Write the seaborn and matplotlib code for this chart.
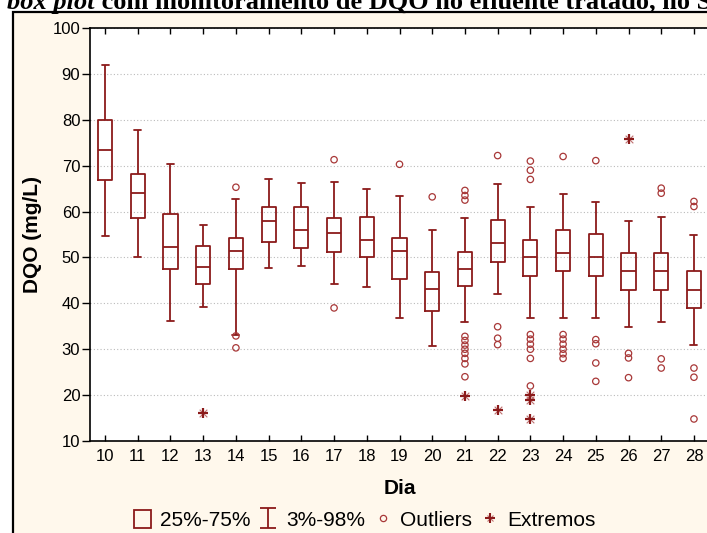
import numpy as np
import pandas as pd
import matplotlib
matplotlib.use("Agg")
import matplotlib.pyplot as plt
import seaborn as sns
from matplotlib.patches import Patch, Rectangle
from matplotlib.lines import Line2D
from matplotlib.path import Path
from matplotlib.legend_handler import HandlerTuple

# ---------------- data ----------------
days = list(range(10, 29))
whisker_low = [54.7, 50.2, 36.2, 39.2, 33.2, 47.7, 48.2, 44.2, 43.6, 36.7,
               30.8, 35.9, 42.1, 36.9, 36.9, 36.9, 34.9, 35.9, 30.9]
q1 = [66.8, 58.7, 47.5, 44.2, 47.4, 53.4, 52.0, 51.2, 50.2, 45.4,
      38.3, 43.8, 49.1, 45.9, 47.0, 45.9, 42.9, 42.9, 39.0]
median = [73.4, 64.1, 52.3, 48.0, 51.5, 58.0, 56.0, 55.3, 53.9, 51.4,
          43.1, 47.5, 53.1, 50.0, 51.0, 50.0, 47.0, 47.0, 43.0]
q3 = [79.9, 68.2, 59.4, 52.5, 54.3, 61.0, 60.9, 58.5, 58.9, 54.2,
      46.9, 51.2, 58.1, 53.9, 55.9, 55.1, 50.9, 50.9, 47.0]
whisker_high = [92.0, 77.7, 70.3, 57.1, 62.7, 67.1, 66.3, 66.5, 65.0, 63.3,
                55.9, 58.6, 66.1, 60.9, 63.9, 62.0, 58.0, 58.9, 55.0]

outlier_day = [14, 14, 14,
               17, 17,
               19,
               20,
               21, 21, 21, 21, 21, 21, 21, 21, 21, 21, 21,
               22, 22, 22, 22,
               23, 23, 23, 23, 23, 23, 23, 23, 23,
               24, 24, 24, 24, 24, 24, 24,
               25, 25, 25, 25, 25,
               26, 26, 26,
               27, 27, 27, 27,
               28, 28, 28, 28, 28]
outlier_value = [65.3, 32.9, 30.3,
                 71.3, 39.0,
                 70.3,
                 63.2,
                 64.6, 63.5, 62.5, 32.8, 31.9, 30.9, 30.0, 29.1, 28.0, 26.8, 24.0,
                 72.2, 34.9, 32.4, 31.0,
                 71.0, 69.0, 67.0, 33.2, 32.2, 31.1, 30.0, 28.0, 22.0,
                 72.0, 33.2, 32.2, 31.1, 30.0, 29.0, 28.0,
                 71.1, 32.1, 31.2, 27.0, 23.0,
                 29.1, 28.1, 23.8,
                 65.1, 64.0, 27.9, 25.9,
                 62.2, 61.1, 25.9, 23.9, 14.8]

extreme_day = [13, 21, 22, 23, 23, 23, 26]
extreme_value = [16.0, 19.9, 16.8, 20.0, 19.0, 14.8, 75.8]

yticks = [10, 20, 30, 40, 50, 60, 70, 80, 90, 100]
legend_labels = ["25%-75%", "3%-98%", "Outliers", "Extremos"]
title_italic = "box plot"
title_rest = " com monitoramento de DQO no efluente tratado, no S"

# ---------------- style ----------------
sns.set_style("white")
plt.rcParams["font.family"] = ["Liberation Sans", "DejaVu Sans"]
for k in ["text.color", "axes.labelcolor", "xtick.color", "ytick.color"]:
    plt.rcParams[k] = "black"

RED = "#8B1A1A"
RED_OUT = "#A83838"
RED_LIGHT = "#C07070"
CREAM = "#FFF8EC"

# 5 values per day -> quartiles of these equal the read box statistics
box_df = pd.DataFrame({
    "Dia": np.repeat(days, 5),
    "DQO": np.column_stack([whisker_low, q1, median, q3, whisker_high]).ravel(),
})
out_df = pd.DataFrame({"Dia": outlier_day, "DQO": outlier_value})
ext_df = pd.DataFrame({"Dia": extreme_day, "DQO": extreme_value})

W, H = 707, 533
fig = plt.figure(figsize=(W / 100, H / 100), dpi=100, facecolor="white")
fig.patches.append(Rectangle((13 / W, -0.05), 1.2, (H - 12) / H + 0.05,
                             transform=fig.transFigure, facecolor=CREAM,
                             edgecolor="black", linewidth=1.6, zorder=-10))

ax = fig.add_axes([90 / W, 92 / H, 619 / W, 413 / H])
ax.set_zorder(1)
ax.set_facecolor("white")
ax.set_axisbelow(True)

sns.boxplot(data=box_df, x="Dia", y="DQO", order=days, whis=(0, 100),
            width=0.43, fill=False, color=RED, linewidth=1.3,
            showfliers=False, ax=ax)

n0 = len(ax.collections)
sns.stripplot(data=out_df, x="Dia", y="DQO", order=days, jitter=False,
              marker="o", size=4.6, color=RED_OUT, ax=ax)
for c in ax.collections[n0:]:
    c.set_facecolor("none")
    c.set_edgecolor(RED_OUT)
    c.set_linewidth(0.9)
    c.set_zorder(4)

# extremes: faint "x" under a bold "+"
n1 = len(ax.collections)
sns.stripplot(data=ext_df, x="Dia", y="DQO", order=days, jitter=False,
              marker="x", size=5.5, color=RED_LIGHT, ax=ax)
for c in ax.collections[n1:]:
    c.set_edgecolor(RED_LIGHT)
    c.set_linewidth(0.8)
    c.set_zorder(4)
n2 = len(ax.collections)
sns.stripplot(data=ext_df, x="Dia", y="DQO", order=days, jitter=False,
              marker="+", size=7, color=RED, ax=ax)
for c in ax.collections[n2:]:
    c.set_edgecolor(RED)
    c.set_linewidth(1.6)
    c.set_zorder(5)

ax.set_ylim(10, 100)
ax.set_yticks(yticks)
ax.set_xlim(-0.46, len(days) - 1 + 0.46)
ax.yaxis.grid(True, linestyle=(0, (1, 2)), color="#BBBBBB", linewidth=0.8)
ax.xaxis.grid(False)

ax.tick_params(axis="y", direction="out", length=6, width=1, left=True,
               right=True, labelsize=12, pad=1)
ax.tick_params(axis="x", direction="in", length=4, width=1, top=True,
               bottom=True, labelsize=12, pad=6)
for s in ax.spines.values():
    s.set_visible(True)
    s.set_color("black")
    s.set_linewidth(1.2)

ax.set_xlabel("Dia", fontsize=15, fontweight="bold")
ax.xaxis.set_label_coords(0.5, (441 - 488) / 413)
ax.xaxis.label.set_va("center")
ax.set_ylabel("DQO (mg/L)", fontsize=15, fontweight="bold")
ax.yaxis.set_label_coords((33 - 90) / 619, 0.5)
ax.yaxis.label.set_va("center")

# cut-off caption above the frame
ty = 1 - 9 / H
fig.text(95 / W, ty, title_italic, fontfamily="Liberation Serif",
         fontweight="bold", fontstyle="italic", fontsize=19,
         ha="right", va="baseline")
fig.text(95 / W, ty, title_rest, fontfamily="Liberation Serif",
         fontweight="bold", fontsize=19, ha="left", va="baseline")

# legend
ipath = Path([(-0.8, -1), (0.8, -1), (0, -1), (0, 1), (-0.8, 1), (0.8, 1)],
             [Path.MOVETO, Path.LINETO, Path.MOVETO, Path.LINETO,
              Path.MOVETO, Path.LINETO])
h1 = Patch(facecolor="none", edgecolor=RED, linewidth=1.3)
h2 = Line2D([], [], linestyle="none", marker=ipath, markersize=15,
            markeredgecolor=RED, markerfacecolor="none", markeredgewidth=1.3)
h3 = Line2D([], [], linestyle="none", marker="o", markersize=4.5,
            markerfacecolor="none", markeredgecolor=RED_OUT,
            markeredgewidth=0.9)
h4a = Line2D([], [], linestyle="none", marker="x", markersize=5,
             markeredgecolor=RED_LIGHT, markeredgewidth=0.8)
h4b = Line2D([], [], linestyle="none", marker="+", markersize=7,
             markeredgecolor=RED, markeredgewidth=1.5)
fig.legend([h1, h2, h3, (h4a, h4b)], legend_labels, loc="center",
           bbox_to_anchor=(365 / W, 13 / H), ncol=4, frameon=False,
           fontsize=15, handlelength=0.8, handleheight=1.0,
           handletextpad=0.45, columnspacing=0.45, borderpad=0,
           borderaxespad=0,
           handler_map={tuple: HandlerTuple(ndivide=1, pad=0)})

fig.savefig("out.png", dpi=100)
